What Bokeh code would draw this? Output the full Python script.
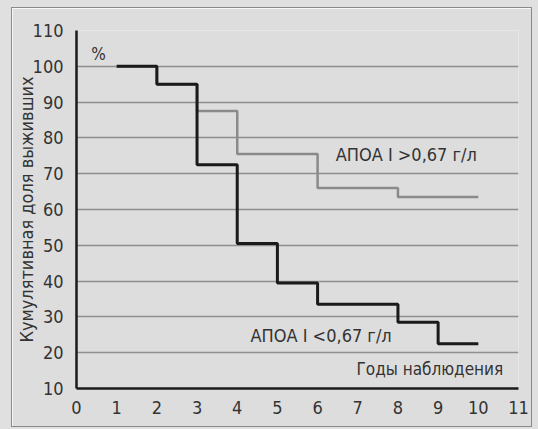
from bokeh.plotting import figure
from bokeh.models import Range1d, FixedTicker
from bokeh.core.properties import value
from bokeh.embed import file_html
from bokeh.resources import INLINE

# Data
years_low = [1, 2, 3, 4, 5, 6, 8, 9, 10]
surv_low = [100, 95, 72.5, 50.5, 39.5, 33.5, 28.5, 22.5, 22.5]
years_high = [1, 2, 3, 4, 6, 8, 10]
surv_high = [100, 95, 87.5, 75.5, 66, 63.5, 63.5]
x_ticks = list(range(0, 12))
y_ticks = list(range(10, 111, 10))
label_high = "АПОА  I >0,67 г/л"
label_low = "АПОА  I <0,67 г/л"
y_title = "Кумулятивная доля выживших"
x_title = "Годы наблюдения"

FONT = "DejaVu Sans Condensed, Roboto, sans-serif"
BG = "#dddddd"
TXT = "#333333"

p = figure(width=521, height=420, output_backend="svg", toolbar_location=None,
           x_range=Range1d(0, 11), y_range=Range1d(10, 110),
           min_border_left=60, min_border_right=15, min_border_top=22,
           min_border_bottom=40)
p.background_fill_color = BG
p.border_fill_color = BG
p.outline_line_color = None
p.styles = {"border": "1.5px solid #8a8a8a", "box-sizing": "border-box",
            "margin-left": "11px", "margin-top": "7px",
            "box-shadow": "0 0 0 12px #e0e0e0"}

p.xaxis.ticker = FixedTicker(ticks=x_ticks)
p.yaxis.ticker = FixedTicker(ticks=y_ticks)
for ax in (p.xaxis, p.yaxis):
    ax.axis_line_color = "#1a1a1a"
    ax.axis_line_width = 2.5
    ax.major_tick_line_color = None
    ax.minor_tick_line_color = None
    ax.major_label_text_font = FONT
    ax.major_label_text_font_size = "18px"
    ax.major_label_text_color = TXT
p.xaxis.major_label_standoff = 6
p.yaxis.major_label_standoff = 7
p.yaxis.axis_label = y_title
p.yaxis.axis_label_text_font = FONT
p.yaxis.axis_label_text_font_size = "18px"
p.yaxis.axis_label_text_font_style = "normal"
p.yaxis.axis_label_text_color = TXT
p.yaxis.axis_label_standoff = -7

p.xgrid.grid_line_color = None
p.ygrid.grid_line_color = "#8f8f8f"
p.ygrid.grid_line_width = 1.5

p.step(years_high, surv_high, mode="after", line_color="#8a8a8a", line_width=2.5)
p.step(years_low, surv_low, mode="after", line_color="#1a1a1a", line_width=3)

p.text(x=[6.45], y=[75.3], text=[label_high], text_font=value(FONT),
       text_font_size="18px", text_color=TXT, text_baseline="middle", text_align="left")
p.text(x=[4.33], y=[24.7], text=[label_low], text_font=value(FONT),
       text_font_size="18px", text_color=TXT, text_baseline="middle", text_align="left")
p.text(x=[10.62], y=[15.4], text=[x_title], text_font=value(FONT),
       text_font_size="17px", text_color=TXT, text_baseline="middle", text_align="right")
p.text(x=[0.55], y=[103.5], text=["%"], text_font=value(FONT),
       text_font_size="17px", text_color=TXT, text_baseline="middle", text_align="center")

open("out.html", "w").write(file_html(p, INLINE))
